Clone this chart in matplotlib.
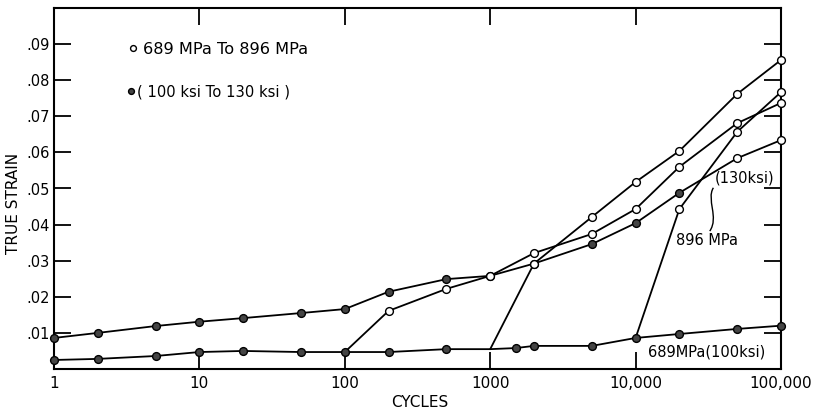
import matplotlib
matplotlib.use("Agg")
import matplotlib.pyplot as plt
from matplotlib.ticker import FixedLocator, FixedFormatter, NullLocator
from matplotlib.patches import PathPatch
from matplotlib.path import Path

# ---------------- data ----------------
low_cycles = [1, 2, 5, 10, 20, 50, 100, 200, 500, 1000, 1500, 2000, 5000, 10000, 20000, 50000, 100000]
low_strain = [0.0025, 0.0028, 0.0036, 0.0047, 0.0050, 0.0047, 0.0047, 0.0047, 0.0055, 0.0055,
              0.0058, 0.0064, 0.0064, 0.0086, 0.0097, 0.0111, 0.0120]
low_marks = "fffffffff-fffffff"

upper_cycles = [1, 2, 5, 10, 20, 50, 100, 200, 500, 1000, 2000, 5000, 10000, 20000, 50000, 100000]
upper_strain = [0.0086, 0.0100, 0.0119, 0.0131, 0.0141, 0.0155, 0.0166, 0.0214, 0.0249, 0.0258,
                0.0292, 0.0346, 0.0404, 0.0488, 0.0584, 0.0634]
upper_marks = "fffffffffoofffoo"

b100_cycles = [100, 200, 500, 1000, 2000, 5000, 10000, 20000, 50000, 100000]
b100_strain = [0.0047, 0.0161, 0.0222, 0.0258, 0.0321, 0.0374, 0.0443, 0.0560, 0.0681, 0.0737]
b100_marks = "-ooooooooo"

b1000_cycles = [1000, 2000, 5000, 10000, 20000, 50000, 100000]
b1000_strain = [0.0055, 0.0292, 0.0421, 0.0518, 0.0604, 0.0762, 0.0856]
b1000_marks = "-oooooo"

b10000_cycles = [10000, 20000, 50000, 100000]
b10000_strain = [0.0086, 0.0443, 0.0657, 0.0767]
b10000_marks = "-ooo"

x_ticks = [1, 10, 100, 1000, 10000, 100000]
x_tick_labels = ["1", "10", "100", "1000", "10,000", "100,000"]
y_ticks = [0.01, 0.02, 0.03, 0.04, 0.05, 0.06, 0.07, 0.08, 0.09]
y_tick_labels = [".01", ".02", ".03", ".04", ".05", ".06", ".07", ".08", ".09"]

series = [
    (low_cycles, low_strain, low_marks),
    (upper_cycles, upper_strain, upper_marks),
    (b100_cycles, b100_strain, b100_marks),
    (b1000_cycles, b1000_strain, b1000_marks),
    (b10000_cycles, b10000_strain, b10000_marks),
]

# ---------------- figure ----------------
plt.rcParams["font.family"] = ["DejaVu Sans"]
W, H = 828, 411
fig = plt.figure(figsize=(W / 100, H / 100), dpi=100)
ax = fig.add_axes([54 / W, 1 - 369 / H, 727 / W, 361 / H])

FILL = "#444444"
MS = 5.6
for cyc, strain, marks in series:
    ax.plot(cyc, strain, color="black", lw=1.3, zorder=2, solid_capstyle="round")
    fx = [c for c, m in zip(cyc, marks) if m == "f"]
    fy = [s for s, m in zip(strain, marks) if m == "f"]
    ox = [c for c, m in zip(cyc, marks) if m == "o"]
    oy = [s for s, m in zip(strain, marks) if m == "o"]
    ax.plot(fx, fy, "o", ms=MS, mfc=FILL, mec="black", mew=1.0, zorder=3, clip_on=False)
    ax.plot(ox, oy, "o", ms=MS, mfc="white", mec="black", mew=1.0, zorder=3, clip_on=False)

ax.set_xscale("log")
ax.set_xlim(1, 100000)
ax.set_ylim(0, 0.1)

ax.xaxis.set_major_locator(FixedLocator(x_ticks))
ax.xaxis.set_major_formatter(FixedFormatter(x_tick_labels))
ax.xaxis.set_minor_locator(NullLocator())
ax.yaxis.set_major_locator(FixedLocator(y_ticks))
ax.yaxis.set_major_formatter(FixedFormatter(y_tick_labels))
ax.yaxis.set_minor_locator(NullLocator())

ax.tick_params(axis="both", which="major", direction="in", length=12, width=1.3,
               top=True, right=True, color="black")
ax.tick_params(axis="x", labelsize=11, pad=5)
ax.tick_params(axis="y", labelsize=10.5, pad=3)
for sp in ax.spines.values():
    sp.set_linewidth(1.5)

# legend-like text
ax.plot([0.1087], [0.889], "o", ms=4.2, mfc="white", mec="black", mew=1.0,
        transform=ax.transAxes, clip_on=False)
ax.text(0.1224, 0.884, "689 MPa To 896 MPa", transform=ax.transAxes,
        fontsize=11.6, ha="left", va="center")
ax.plot([0.1060], [0.770], "o", ms=4.2, mfc=FILL, mec="black", mew=1.0,
        transform=ax.transAxes, clip_on=False)
ax.text(0.1140, 0.767, "( 100 ksi To 130 ksi )", transform=ax.transAxes,
        fontsize=10.6, ha="left", va="center")

# annotations
ax.text(0.9505, 0.528, "(130ksi)", transform=ax.transAxes, fontsize=10.5,
        ha="center", va="center")
ax.text(0.898, 0.356, "896 MPa", transform=ax.transAxes, fontsize=10.5,
        ha="center", va="center")
ax.text(0.898, 0.047, "689MPa(100ksi)", transform=ax.transAxes, fontsize=10.5,
        ha="center", va="center")
leader_path = Path(
    [(0.907, 0.502), (0.897, 0.470), (0.915, 0.420), (0.902, 0.382)],
    [Path.MOVETO, Path.CURVE4, Path.CURVE4, Path.CURVE4],
)
ax.add_patch(PathPatch(leader_path, transform=ax.transAxes, fill=False,
                       edgecolor="black", lw=1.0))

# axis titles
fig.text(14 / W, 1 - 203 / H, "TRUE STRAIN", rotation=90, fontsize=11,
         ha="center", va="center")
fig.text(420 / W, 1 - 402 / H, "CYCLES", fontsize=11, ha="center", va="center")

fig.savefig("out.png", dpi=100)
